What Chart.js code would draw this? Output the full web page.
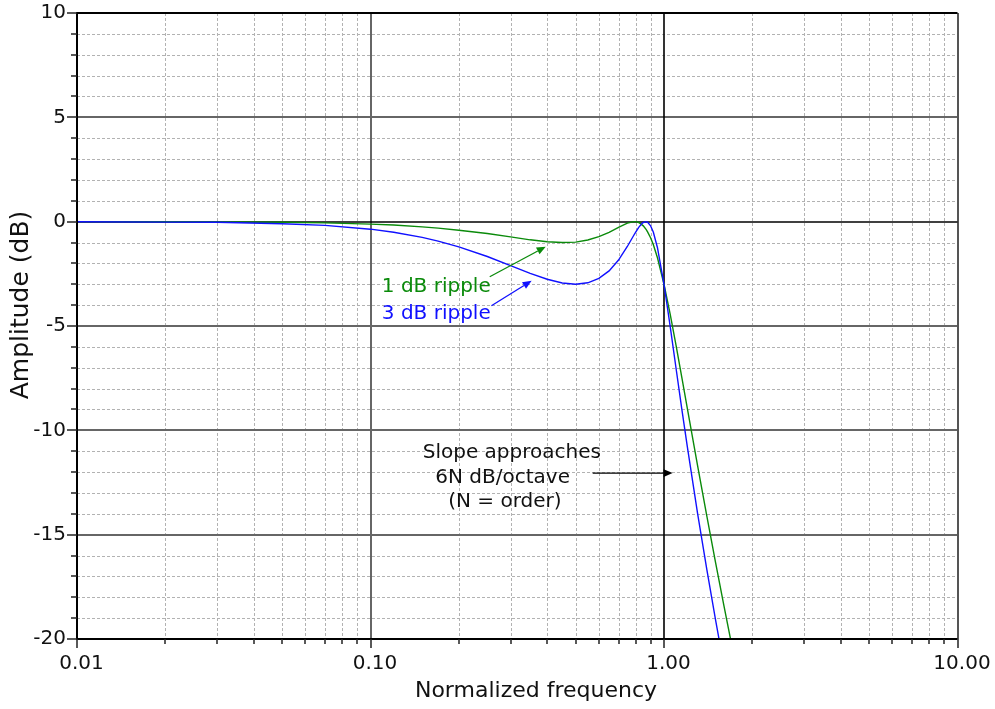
<!DOCTYPE html>
<html><head><meta charset="utf-8">
<script src="https://cdn.jsdelivr.net/npm/chart.js@4/dist/chart.umd.min.js"></script>
<style>html,body{margin:0;padding:0;background:#fff;overflow:hidden}canvas{display:block}</style>
</head><body>
<canvas id="c" width="995" height="709"></canvas>
<script>
// ---- data ----
const frequencies = [0.01,0.02,0.03,0.05,0.07,0.1,0.12,0.15,0.17,0.2,0.25,0.3,0.35,0.4,0.45,0.5,0.55,0.6,0.65,0.7,0.75,0.79,0.8,0.82,0.84,0.85,0.87,0.88,0.9,0.92,0.95,1.0,1.05,1.1,1.15,1.2,1.3,1.4,1.5,1.6,1.7];
const ripple1dB = [0.00,-0.005,-0.01,-0.03,-0.06,-0.12,-0.16,-0.25,-0.31,-0.41,-0.57,-0.73,-0.87,-0.96,-1.00,-0.98,-0.88,-0.72,-0.51,-0.27,-0.07,0.00,0.00,-0.04,-0.14,-0.20,-0.38,-0.50,-0.77,-1.11,-1.73,-3.00,-4.44,-5.95,-7.46,-8.92,-11.65,-14.12,-16.36,-18.40,-20.27];
const ripple3dB = [-0.004,-0.02,-0.03,-0.10,-0.18,-0.36,-0.51,-0.75,-0.93,-1.21,-1.67,-2.11,-2.48,-2.76,-2.94,-3.00,-2.93,-2.72,-2.36,-1.84,-1.19,-0.64,-0.51,-0.27,-0.10,-0.04,0.00,-0.03,-0.20,-0.51,-1.25,-3.00,-5.03,-7.06,-8.98,-10.76,-13.94,-16.69,-19.12,-21.29,-23.26];
const seriesNames = ['1 dB ripple','3 dB ripple'];
const xTickValues = [0.01,0.1,1,10];
const xTickLabels = ['0.01','0.10','1.00','10.00'];
const yTickValues = [-20,-15,-10,-5,0,5,10];
const xTitle = 'Normalized frequency';
const yTitle = 'Amplitude (dB)';
const slopeNote = ['Slope approaches','6N dB/octave','(N = order)'];

const FONT = '"DejaVu Sans", sans-serif';
const GREEN = '#0a8a0a', BLUE = '#1010ff';

function toPts(ys){ return frequencies.map((f,i)=>({x:f,y:ys[i]})); }

function seg(ctx,x1,y1,x2,y2){ ctx.beginPath(); ctx.moveTo(x1,y1); ctx.lineTo(x2,y2); ctx.stroke(); }
function arrow(ctx,x1,y1,x2,y2,color){
  ctx.save(); ctx.strokeStyle=color; ctx.fillStyle=color; ctx.lineWidth=1.3;
  const ang=Math.atan2(y2-y1,x2-x1), L=9, W=3.8;
  const bx=x2-L*Math.cos(ang), by=y2-L*Math.sin(ang);
  seg(ctx,x1,y1,bx,by);
  ctx.beginPath(); ctx.moveTo(x2,y2);
  ctx.lineTo(bx+W*Math.sin(ang), by-W*Math.cos(ang));
  ctx.lineTo(bx-W*Math.sin(ang), by+W*Math.cos(ang));
  ctx.closePath(); ctx.fill(); ctx.restore();
}

const gridPlugin = {
  id:'customGrid',
  beforeDatasetsDraw(chart){
    const {ctx, chartArea:a, scales:{x,y}} = chart;
    ctx.save();
    // minor grid
    ctx.strokeStyle='#b2b2b2'; ctx.lineWidth=1; ctx.setLineDash([3,2]);
    for (let v=-19; v<10; v++){ if (v%5===0) continue;
      const py=Math.round(y.getPixelForValue(v))+0.5; seg(ctx,a.left,py,a.right,py); }
    for (const d of [0.01,0.1,1]) for (let k=2;k<10;k++){
      const px=Math.round(x.getPixelForValue(d*k))+0.5; seg(ctx,px,a.top,px,a.bottom); }
    ctx.setLineDash([]);
    // major grid
    ctx.strokeStyle='#666'; ctx.lineWidth=2;
    for (const v of [-15,-10,-5,5]){ const py=Math.round(y.getPixelForValue(v)); seg(ctx,a.left,py,a.right,py); }
    const px01=Math.round(x.getPixelForValue(0.1)); seg(ctx,px01,a.top,px01,a.bottom);
    ctx.strokeStyle='#555';
    const px10=Math.round(x.getPixelForValue(10)); seg(ctx,px10,a.top,px10,a.bottom);
    ctx.strokeStyle='#000'; ctx.lineWidth=1.6;
    const py0=Math.round(y.getPixelForValue(0)); seg(ctx,a.left,py0,a.right,py0);
    const px1=Math.round(x.getPixelForValue(1)); seg(ctx,px1,a.top,px1,a.bottom);
    ctx.restore();
  },
  afterDraw(chart){
    const {ctx, chartArea:a, scales:{x,y}} = chart;
    ctx.save();
    // axes frame
    ctx.strokeStyle='#000'; ctx.lineWidth=2;
    seg(ctx,a.left,a.top,a.right,a.top);
    seg(ctx,a.left,a.top-1,a.left,a.bottom+1);
    seg(ctx,a.left,a.bottom,a.right,a.bottom);
    // ticks
    ctx.strokeStyle='#222'; ctx.lineWidth=1.5;
    for (let v=-20; v<=10; v++){
      const py=Math.round(y.getPixelForValue(v));
      seg(ctx,a.left-(v%5===0?10:6),py,a.left,py);
    }
    for (const d of [0.01,0.1,1]) for (let k=1;k<10;k++){
      const px=Math.round(x.getPixelForValue(d*k));
      seg(ctx,px,a.bottom,px,a.bottom+(k===1?9:5));
    }
    { const px=Math.round(x.getPixelForValue(10)); seg(ctx,px,a.bottom,px,a.bottom+9); }
    // axis titles
    ctx.fillStyle='#111'; ctx.textAlign='center'; ctx.textBaseline='alphabetic';
    ctx.font='22px '+FONT;
    ctx.fillText(xTitle, 536, 697);
    ctx.save(); ctx.translate(28,305); ctx.rotate(-Math.PI/2);
    ctx.font='25px '+FONT; ctx.fillText(yTitle,0,0); ctx.restore();
    // annotations
    ctx.font='20px '+FONT; ctx.textAlign='left';
    ctx.fillStyle=GREEN; ctx.fillText(seriesNames[0], x.getPixelForValue(0.1093), y.getPixelForValue(-3.38));
    ctx.fillStyle=BLUE;  ctx.fillText(seriesNames[1], x.getPixelForValue(0.1093), y.getPixelForValue(-4.68));
    arrow(ctx, x.getPixelForValue(0.2548), y.getPixelForValue(-2.64), x.getPixelForValue(0.3953), y.getPixelForValue(-1.20), GREEN);
    arrow(ctx, x.getPixelForValue(0.2582), y.getPixelForValue(-4.03), x.getPixelForValue(0.354), y.getPixelForValue(-2.83), BLUE);
    ctx.fillStyle='#111'; ctx.textAlign='center';
    const noteX=[0.303,0.282,0.287], noteY=[-11.33,-12.53,-13.68];
    slopeNote.forEach((t,i)=>ctx.fillText(t, x.getPixelForValue(noteX[i]), y.getPixelForValue(noteY[i])));
    arrow(ctx, x.getPixelForValue(0.5714), y.getPixelForValue(-12.05), x.getPixelForValue(1.07), y.getPixelForValue(-12.05), '#000');
    ctx.restore();
  }
};

new Chart(document.getElementById('c'), {
  type:'line',
  data:{ datasets:[
    {label:seriesNames[1], data:toPts(ripple3dB), borderColor:BLUE, borderWidth:1.4, pointRadius:0, tension:0, fill:false},
    {label:seriesNames[0], data:toPts(ripple1dB), borderColor:GREEN, borderWidth:1.4, pointRadius:0, tension:0, fill:false}
  ]},
  options:{
    responsive:false, animation:false, devicePixelRatio:1,
    layout:{padding:{top:13,right:37.5,left:0,bottom:0}},
    plugins:{legend:{display:false}, tooltip:{enabled:false}},
    scales:{
      x:{type:'logarithmic', min:0.01, max:10,
         grid:{display:false}, border:{display:false},
         afterBuildTicks:s=>{ s.ticks = xTickValues.map(v=>({value:v})); },
         afterFit:s=>{ s.height = 70; s.paddingLeft = 0; s.paddingRight = 0; },
         ticks:{autoSkip:false, maxRotation:0, padding:5, labelOffset:4.5, color:'#111', font:{family:FONT,size:20},
                callback:(v,i)=>xTickLabels[xTickValues.indexOf(v)] ?? ''}},
      y:{type:'linear', min:-20, max:10,
         grid:{display:false}, border:{display:false},
         afterBuildTicks:s=>{ s.ticks = yTickValues.map(v=>({value:v})); },
         afterFit:s=>{ s.width = 77; s.paddingTop = 0; s.paddingBottom = 0; },
         ticks:{padding:3, color:'#111', font:{family:FONT,size:20}, callback:v=>String(v)}}
    }
  },
  plugins:[gridPlugin]
});
</script>
</body></html>
